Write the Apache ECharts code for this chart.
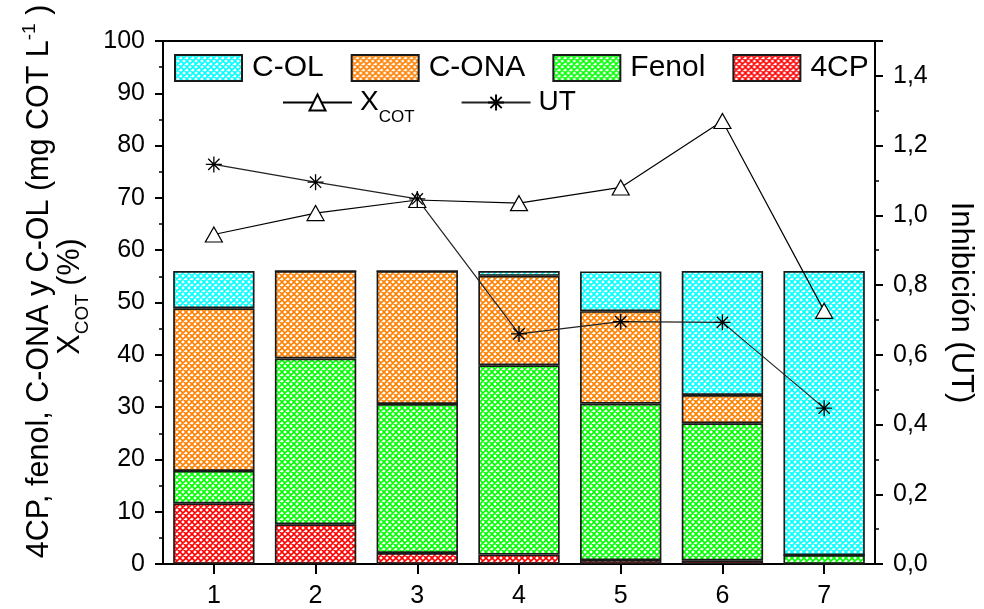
<!DOCTYPE html>
<html>
<head>
<meta charset="utf-8">
<script src="https://cdn.jsdelivr.net/npm/echarts@6/dist/echarts.min.js"></script>
<style>html,body{margin:0;padding:0;background:#fff}#c{width:984px;height:609px}</style>
</head>
<body>
<div id="c"></div>
<script>
const categories = ['1', '2', '3', '4', '5', '6', '7'];
const c4cp  = [11.6, 7.6, 2.1, 1.8, 0.75, 0.7, 0];
const fenol = [6.2, 31.7, 28.5, 36.2, 29.9, 26.2, 1.7];
const cona  = [31.1, 16.7, 25.4, 17.1, 17.7, 5.4, 0];
const col   = [7.1, 0, 0, 0.9, 7.6, 23.7, 54.3];
const xcot  = [63.0, 67.1, 69.6, 69.0, 72.0, 84.7, 48.4];
const ut    = [1.146, 1.095, 1.047, 0.66, 0.695, 0.693, 0.447];

const FONT = 'Liberation Sans, Arial, sans-serif';

function hatch(color) {
  const s = 6;
  const c = document.createElement('canvas');
  c.width = s; c.height = s;
  const g = c.getContext('2d');
  g.fillStyle = '#fff';
  g.fillRect(0, 0, s, s);
  g.strokeStyle = color;
  g.lineWidth = 1.6;
  g.beginPath();
  for (let k = -1; k <= 1; k++) {
    g.moveTo(k * s, 0); g.lineTo(k * s + s, s);
    g.moveTo(k * s + s, 0); g.lineTo(k * s, s);
  }
  g.stroke();
  return { image: c, repeat: 'repeat' };
}

function barSeries(name, data, color) {
  return {
    name: name, type: 'bar', stack: 'a', data: data,
    barCategoryGap: '20%',
    itemStyle: { color: hatch(color), borderColor: '#1a1a1a', borderWidth: 1.7 },
    z: 2
  };
}

const starPath = 'path://M0,-10L0,10M-10,0L10,0M-7.07,-7.07L7.07,7.07M-7.07,7.07L7.07,-7.07';

const chart = echarts.init(document.getElementById('c'), null, { renderer: 'canvas' });
chart.setOption({
  animation: false,
  backgroundColor: '#fff',
  textStyle: { fontFamily: FONT, color: '#000' },
  grid: { left: 163, right: 102, top: 41, bottom: 38.5, show: true, borderColor: '#000', borderWidth: 2 },
  legend: [
    {
      data: ['C-OL', 'C-ONA', 'Fenol', '4CP'],
      left: 174, top: 53, orient: 'horizontal', padding: 0,
      itemWidth: 67, itemHeight: 26, itemGap: 27, icon: 'rect',
      textStyle: { fontFamily: FONT, fontSize: 30, lineHeight: 26, color: '#000', padding: [0, 0, 0, 5] }
    },
    {
      data: ['XCOT', 'UT'],
      left: 282, top: 79, orient: 'horizontal', padding: 0,
      itemWidth: 69, itemHeight: 20, itemGap: 46,
      formatter: function (n) { return n === 'XCOT' ? '{x|X}{s|COT}' : '{x|UT}'; },
      textStyle: {
        fontFamily: FONT, color: '#000', padding: [0, 0, 0, 3],
        rich: {
          x: { fontFamily: FONT, fontSize: 28, lineHeight: 28, color: '#000' },
          s: { fontFamily: FONT, fontSize: 17, lineHeight: 17, color: '#000', padding: [30, 0, 0, 0] }
        }
      }
    }
  ],
  xAxis: {
    type: 'category', data: categories,
    axisLine: { show: true, lineStyle: { color: '#000', width: 2 } },
    axisTick: { show: true, alignWithLabel: true, length: 10, lineStyle: { color: '#000', width: 2 } },
    axisLabel: { fontFamily: FONT, fontSize: 25, color: '#000', margin: 20 },
    splitLine: { show: false }
  },
  yAxis: [
    {
      type: 'value', min: 0, max: 100, interval: 10, position: 'left',
      axisLine: { show: true, lineStyle: { color: '#000', width: 2 } },
      axisTick: { show: true, length: 8, lineStyle: { color: '#000', width: 2 } },
      minorTick: { show: true, splitNumber: 2, length: 4, lineStyle: { color: '#000', width: 1.5 } },
      axisLabel: { fontFamily: FONT, fontSize: 25, color: '#000', margin: 18 },
      splitLine: { show: false },
      name: '{t|4CP, fenol, C-ONA y C-OL (mg COT L}{sup|-1}{t| )}\n{t|X}{sub|COT}{e| (%)}',
      nameLocation: 'middle', nameRotate: 90, nameGap: 58,
      nameTextStyle: {
        fontFamily: FONT, color: '#000', align: 'center', padding: [0, 0, 0, 42],
        rich: {
          t: { fontFamily: FONT, fontSize: 30.5, lineHeight: 31, color: '#000' },
          e: { fontFamily: FONT, fontSize: 30.5, lineHeight: 31, color: '#000', padding: [0, 30, 0, 0] },
          sup: { fontFamily: FONT, fontSize: 19, lineHeight: 19, color: '#000', padding: [0, 0, 20, 0] },
          sub: { fontFamily: FONT, fontSize: 19, lineHeight: 19, color: '#000', padding: [24, 0, 0, 0] }
        }
      }
    },
    {
      type: 'value', min: 0, max: 1.5, interval: 0.2, position: 'right',
      axisLine: { show: true, lineStyle: { color: '#000', width: 2 } },
      axisTick: { show: true, length: 8, lineStyle: { color: '#000', width: 2 } },
      minorTick: { show: true, splitNumber: 2, length: 4, lineStyle: { color: '#000', width: 1.5 } },
      axisLabel: {
        fontFamily: FONT, fontSize: 25, color: '#000', margin: 18,
        formatter: function (v) { return v > 1.45 ? '' : v.toFixed(1).replace('.', ','); }
      },
      splitLine: { show: false },
      name: 'Inhibición (UT)', nameLocation: 'middle', nameRotate: -90, nameGap: 70,
      nameTextStyle: { fontFamily: FONT, fontSize: 31, color: '#000' }
    }
  ],
  series: [
    barSeries('4CP', c4cp, '#ff0000'),
    barSeries('Fenol', fenol, '#00ff00'),
    barSeries('C-ONA', cona, '#ff8000'),
    barSeries('C-OL', col, '#00ffff'),
    {
      name: 'XCOT', type: 'line', yAxisIndex: 0, data: xcot,
      symbol: 'triangle', symbolSize: [17, 15],
      lineStyle: { color: '#000', width: 1.2 },
      itemStyle: { color: '#fff', borderColor: '#000', borderWidth: 1.2 },
      z: 5
    },
    {
      name: 'UT', type: 'line', yAxisIndex: 1, data: ut,
      symbol: starPath, symbolSize: 16,
      lineStyle: { color: '#222', width: 1.2 },
      itemStyle: { color: '#000', borderColor: '#000', borderWidth: 1.3 },
      z: 5
    }
  ]
});
</script>
</body>
</html>
